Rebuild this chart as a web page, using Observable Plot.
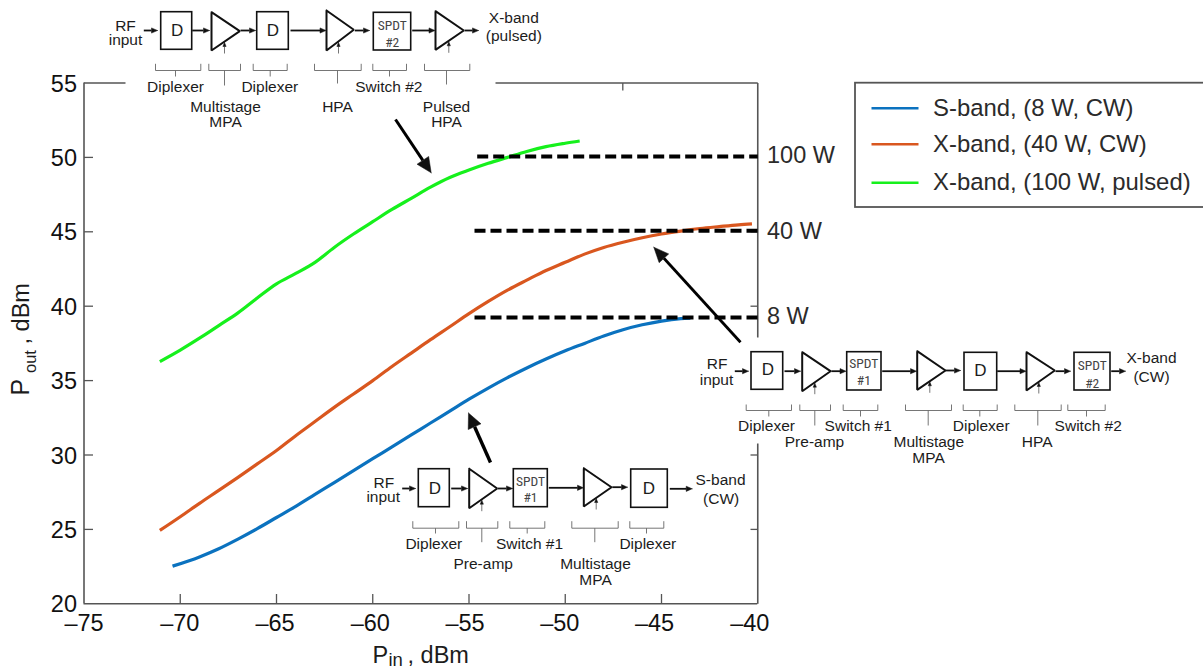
<!DOCTYPE html>
<html>
<head>
<meta charset="utf-8">
<style>
html,body{margin:0;padding:0;background:#fff;overflow:hidden}
svg{display:block}
</style>
<script src="https://cdn.jsdelivr.net/npm/d3@7"></script>
<script src="https://cdn.jsdelivr.net/npm/@observablehq/plot@0.6"></script>
</head>
<body>
<div id="chart"></div>
<script>
// ---- chart values ----
const sBandPin  = [-70.4,-69,-68,-67,-66,-65,-64,-63,-62,-61,-60,-59,-58,-57,-56,-55,-54,-53,-52,-51,-50,-49,-48,-47,-46,-45,-44,-43.5];
const sBandPout = [22.53,23.15,23.7,24.35,25.05,25.8,26.55,27.35,28.15,28.95,29.75,30.55,31.35,32.15,32.95,33.75,34.5,35.2,35.85,36.45,37.0,37.5,38.0,38.42,38.75,39.0,39.16,39.2];
const xCwPin    = [-71.06,-70,-69,-68,-67,-66,-65,-64,-63,-62,-61,-60,-59,-58,-57,-56,-55,-54,-53,-52,-51,-50,-49,-48,-47,-46,-45,-44,-43,-42,-41,-40.3];
const xCwPout   = [24.93,25.85,26.75,27.62,28.5,29.4,30.3,31.3,32.25,33.2,34.1,35.0,35.95,36.85,37.75,38.62,39.5,40.32,41.08,41.75,42.4,42.95,43.5,43.95,44.3,44.6,44.85,45.05,45.22,45.35,45.47,45.53];
const xPulsePin = [-71.06,-70,-69,-68,-67,-66,-65,-64,-63,-62,-61,-60,-59,-58,-57,-56,-55,-54,-53,-52,-51,-50,-49.25];
const xPulsePout= [36.28,37.05,37.85,38.7,39.55,40.55,41.5,42.2,42.95,43.95,44.85,45.68,46.5,47.25,48.0,48.65,49.15,49.6,50.0,50.4,50.72,50.95,51.1];
const xTicks = [-75,-70,-65,-60,-55,-50,-45,-40];
const yTicks = [20,25,30,35,40,45,50,55];
const seriesNames  = ["S-band, (8 W, CW)","X-band, (40 W, CW)","X-band, (100 W, pulsed)"];
const seriesColors = ["#0b72bf","#d9571f","#16f01c"];
const levelNames  = ["100 W","40 W","8 W"];
const levelValues = [50.06,45.07,39.24];

// ---- layout ----
const pxX = p => -75 + (p - 83.5) / 19.25;
const pxY = p => 20 + (603.3 - p) / 14.88;
const ink = "#1c1c1c", axisInk = "#555";
const tick = v => "\u2013" + Math.abs(v);

const labelShift = [0,-0.5,-1.5,-2.5,-4,-5.5,-7,-8];

// diagram layout, in page pixels
const segs = [], thinSegs = [], polys = [], ampPolys = [], boxes = [], labels = [], spdt = [], dees = [];
let polyId = 0;
function arrow(x1,y1,x2,y2,len,hw,list,w){
  const a = Math.atan2(y2-y1,x2-x1), c = Math.cos(a), s = Math.sin(a);
  const bx = x2-len*c, by = y2-len*s;
  list.push({x1,y1,x2:bx,y2:by,w});
  const id = polyId++;
  [[x2,y2],[bx-hw*s,by+hw*c],[bx+hw*s,by-hw*c],[x2,y2]].forEach(p=>polys.push({id,x:p[0],y:p[1]}));
}
function wire(x1,x2,y){arrow(x1,y,x2,y,6,2.6,segs,1.8)}
function amp(l,t,b,tx,ty,sub){
  const id = polyId++;
  [[l,t],[tx,ty],[l,b],[l,t]].forEach(p=>ampPolys.push({id,x:p[0],y:p[1]}));
  arrow(sub,b+3,sub,b-8,4,1.6,thinSegs,0.9);
}
function box(l,r,t,b){boxes.push([l,r,t,b])}
function brace(l,r,top,bar,stem,endY){
  [[l,top,l,bar],[l,bar,r,bar],[r,bar,r,top],[stem,bar,stem,endY]].forEach(s=>thinSegs.push({x1:s[0],y1:s[1],x2:s[2],y2:s[3],w:0.9}));
}
function lab(t,x,y){labels.push([t,x,y])}

// top diagram: X-band pulsed
lab("RF",125,30);lab("input",125,44);
wire(143.3,157,30);box(160.7,191.7,11.7,49.3);dees.push(["D",176.7,30]);
wire(191.7,209,30);amp(211,11.7,50,239.3,30.7,224);
wire(240,255,30);box(256.7,288.3,11.7,49.3);dees.push(["D",272.5,30]);
wire(290,325.5,30);amp(326,10,50,353.3,29.3,338);
wire(354.3,369,30);box(373.3,410.7,12.3,50);spdt.push(["SPDT",391.7,25],["#2",391.7,41.7]);
wire(411.7,434.5,30);amp(435,10.7,49.3,463.3,30,448.3);
wire(464,478,30);lab("X-band",513.3,22.7);lab("(pulsed)",513.3,40.7);
brace(155,200.3,63.3,70,175,76);lab("Diplexer",175,91.7);
brace(208.3,240,63.3,70,224,85);lab("Multistage",225,111.7);lab("MPA",225,126.7);
brace(252.7,286.7,63.3,70,269.7,76);lab("Diplexer",269.3,91.7);
brace(314,360.7,63.3,70,337,83);lab("HPA",337,111.7);
brace(372.3,406,63.3,70,389,76);lab("Switch #2",388.3,91.7);
brace(424,469.3,63.3,70,446,84);lab("Pulsed",446,111.7);lab("HPA",446,126.7);

// right diagram: X-band CW
lab("RF",716.7,368.3);lab("input",716,384.3);
wire(734.3,748,370.7);box(751,782.7,351.7,389.3);dees.push(["D",767.3,369.3]);
wire(784,800,370.7);amp(801.7,351.7,390.7,830,370.7,814.3);
wire(830.7,845.5,370.7);box(846.7,881,351.7,390);spdt.push(["SPDT",863.3,363.3],["#1",863.3,380]);
wire(881.7,916,370.7);amp(916.7,350.7,389.3,945,370,929.3);
wire(945,960,370);box(964,996.7,352.3,390);dees.push(["D",980,370]);
wire(996.7,1025.5,370.7);amp(1026,351.7,390,1054.3,370,1038.3);
wire(1055,1070,370.7);box(1074,1110,352.3,390);spdt.push(["SPDT",1091.7,365],["#2",1091.7,382.7]);
wire(1110.7,1125,370.7);lab("X-band",1151,362.3);lab("(CW)",1151,381.7);
brace(745.7,791,404,410,768.3,416);lab("Diplexer",766,430.7);
brace(799.3,830,404,410,814.3,425);lab("Pre-amp",814,446.7);
brace(842.7,877.3,404,410,860,416);lab("Switch #1",857.7,430.7);
brace(905,951,404,410,927.7,425);lab("Multistage",928.3,446.7);lab("MPA",928,462.3);
brace(962.7,996.7,404,410,979.3,416);lab("Diplexer",980.7,430.7);
brace(1014.3,1060.7,404,410,1037.3,425);lab("HPA",1036.7,446.7);
brace(1067.3,1104.7,404,410,1086,416);lab("Switch #2",1087.7,430.7);

// bottom diagram: S-band CW
lab("RF",383.3,487.3);lab("input",382.7,501.7);
wire(401.7,415,488);box(418.3,449.3,468.7,506.7);dees.push(["D",434.3,488.3]);
wire(450.7,467,488);amp(468.7,468.3,507.7,496.7,488,481.3);
wire(497.3,512,488);box(513.3,547.3,468.7,506.7);spdt.push(["SPDT",530,480.7],["#1",530,497.3]);
wire(548.3,583,487.3);amp(583.3,467.7,506,611,486.7,595.7);
wire(611.7,627,486.7);box(630.7,667.3,469,507.3);dees.push(["D",648.3,488.3]);
wire(669.3,691.7,488.3);lab("S-band",720,484);lab("(CW)",720.7,503.3);
brace(412.3,458.3,520.7,527.7,435,533);lab("Diplexer",433.3,548.3);
brace(466,497.3,520.7,527.7,481.3,541.7);lab("Pre-amp",482.7,568.3);
brace(509.3,544.3,520.7,527.7,526.7,533);lab("Switch #1",529,548.3);
brace(571.3,617.7,520.7,527.7,594.3,541.7);lab("Multistage",595,568.3);lab("MPA",595,584.3);
brace(629.3,663.3,520.7,527.7,646,533);lab("Diplexer",647.3,548.3);

// big pointer arrows
const bigSegs = [];
arrow(395,119,430.7,172.3,15,7,bigSegs,3);
arrow(740,341.7,653.3,246.7,15,6.5,bigSegs,2.8);
arrow(490,462,468,412.5,15,7,bigSegs,3.4);

// table for the curves
const rows = (xs,ys,name) => xs.map((x,i)=>({x,y:ys[i],name}));
const curveRows = [
  ...rows(sBandPin,sBandPout,seriesNames[0]),
  ...rows(xCwPin,xCwPout,seriesNames[1]),
  ...rows(xPulsePin,xPulsePout,seriesNames[2])
];
const dashStart = [476.7,474,474];
const legendY = [107.7,143.7,182.3];

const txt = (data, o) => Plot.text(data, {x:d=>pxX(d[1]), y:d=>pxY(d[2]), text:d=>d[0], lineAnchor:"bottom", fill:ink, ...o});

const chart = Plot.plot({
  width:1203, height:669,
  marginLeft:83.5, marginRight:445.75, marginTop:82.5, marginBottom:65.7,
  style:{fontFamily:"'Liberation Sans',Arial,sans-serif",background:"#fff",overflow:"hidden"},
  x:{domain:[-75,-40],label:null},
  y:{domain:[20,55],label:null},
  color:{domain:seriesNames,range:seriesColors},
  marks:[
    // frame with gaps where the diagrams sit
    Plot.ruleX([-75],{stroke:axisInk,strokeWidth:1.6}),
    Plot.ruleY([20],{stroke:axisInk,strokeWidth:1.6}),
    Plot.link([[83.5,125],[495,757.25]],{x1:d=>pxX(d[0]),x2:d=>pxX(d[1]),y1:55,y2:55,stroke:axisInk,strokeWidth:1.6}),
    Plot.link([[82.5,337],[443,603.3]],{y1:d=>pxY(d[0]),y2:d=>pxY(d[1]),x1:-40,x2:-40,stroke:axisInk,strokeWidth:1.6}),
    // inward ticks
    Plot.link(xTicks.slice(1,7),{x1:d=>d,x2:d=>d,y1:20,y2:pxY(593.5),stroke:axisInk,strokeWidth:1.3}),
    Plot.link(yTicks.slice(1,7),{y1:d=>d,y2:d=>d,x1:-75,x2:pxX(92.5),stroke:axisInk,strokeWidth:1.3}),
    Plot.link([50,45,40,30,25],{y1:d=>d,y2:d=>d,x1:-40,x2:pxX(750),stroke:axisInk,strokeWidth:1.3}),
    Plot.link([pxX(622.3)],{x1:d=>d,x2:d=>d,y1:55,y2:pxY(90),stroke:axisInk,strokeWidth:1.3}),
    // tick labels
    ...xTicks.map((t,i)=>Plot.axisX([t],{anchor:"bottom",tickSize:0,tickPadding:11,dx:labelShift[i],tickFormat:tick,fontSize:23.5,fill:"#111",label:null})),
    Plot.axisY(yTicks,{anchor:"left",tickSize:0,tickPadding:7,dy:1,fontSize:23.5,fill:"#111",label:null}),
    // axis titles
    Plot.text(["P"],{x:pxX(28),y:pxY(395),rotate:-90,textAnchor:"start",lineAnchor:"bottom",fontSize:25,fill:ink}),
    Plot.text(["out"],{x:pxX(35),y:pxY(372.5),rotate:-90,textAnchor:"start",lineAnchor:"bottom",fontSize:16.5,fill:ink}),
    Plot.text([", dBm"],{x:pxX(28.5),y:pxY(344),rotate:-90,textAnchor:"start",lineAnchor:"bottom",fontSize:23.5,fill:ink}),
    Plot.text(["P"],{x:pxX(372),y:pxY(662.7),textAnchor:"start",lineAnchor:"bottom",fontSize:23.5,fill:ink}),
    Plot.text(["in"],{x:pxX(388),y:pxY(665),textAnchor:"start",lineAnchor:"bottom",fontSize:18.5,fill:ink}),
    Plot.text([", dBm"],{x:pxX(407),y:pxY(662.7),textAnchor:"start",lineAnchor:"bottom",fontSize:23.5,fill:ink}),
    // curves
    Plot.line(curveRows,{x:"x",y:"y",z:"name",stroke:"name",strokeWidth:3.2,curve:"monotone-x",strokeLinecap:"butt"}),
    // saturation levels
    Plot.link(levelValues,{x1:(d,i)=>pxX(dashStart[i]),x2:-40,y1:d=>d,y2:d=>d,stroke:"#000",strokeWidth:4,strokeDasharray:"11,5"}),
    Plot.text(levelNames,{x:pxX(766.5),y:(d,i)=>levelValues[i]+[0.05,-0.05,0.05][i],text:d=>d,textAnchor:"start",lineAnchor:"middle",fontSize:23.5,fill:"#2b2b2b"}),
    // pointers
    Plot.link(bigSegs,{x1:d=>pxX(d.x1),y1:d=>pxY(d.y1),x2:d=>pxX(d.x2),y2:d=>pxY(d.y2),stroke:"#000",strokeWidth:d=>d.w}),
    // block diagrams
    Plot.rect(boxes,{x1:d=>pxX(d[0]),x2:d=>pxX(d[1]),y1:d=>pxY(d[2]),y2:d=>pxY(d[3]),fill:"#fff",stroke:"#111",strokeWidth:1.6}),
    Plot.line(ampPolys,{x:d=>pxX(d.x),y:d=>pxY(d.y),z:"id",fill:"#fff",stroke:"#111",strokeWidth:2,strokeLinejoin:"miter"}),
    Plot.link(segs,{x1:d=>pxX(d.x1),y1:d=>pxY(d.y1),x2:d=>pxX(d.x2),y2:d=>pxY(d.y2),stroke:"#111",strokeWidth:d=>d.w}),
    Plot.link(thinSegs,{x1:d=>pxX(d.x1),y1:d=>pxY(d.y1),x2:d=>pxX(d.x2),y2:d=>pxY(d.y2),stroke:"#666",strokeWidth:d=>d.w}),
    Plot.line(polys,{x:d=>pxX(d.x),y:d=>pxY(d.y),z:"id",fill:"#111",stroke:"#111",strokeWidth:0.5}),
    txt(labels,{fontSize:15.5}),
    txt(spdt,{fontSize:13.5,fill:"#444",fontFamily:"'Liberation Sans Narrow','Roboto Condensed','DejaVu Sans Condensed',sans-serif",lineAnchor:"middle"}),
    txt(dees,{fontSize:17,lineAnchor:"middle"}),
    // legend
    Plot.rect([0],{x1:pxX(855),x2:pxX(1208),y1:pxY(82.7),y2:pxY(207),fill:"none",stroke:"#555",strokeWidth:1.8}),
    Plot.link(seriesNames,{x1:pxX(871),x2:pxX(918),y1:(d,i)=>pxY(legendY[i]),y2:(d,i)=>pxY(legendY[i]),stroke:d=>d,strokeWidth:2.6}),
    Plot.text(seriesNames,{x:pxX(932.5),y:(d,i)=>pxY(legendY[i]),text:d=>d,textAnchor:"start",lineAnchor:"middle",fontSize:23.9,fill:"#2b2b2b"})
  ]
});
document.getElementById("chart").append(chart);
</script>
</body>
</html>
